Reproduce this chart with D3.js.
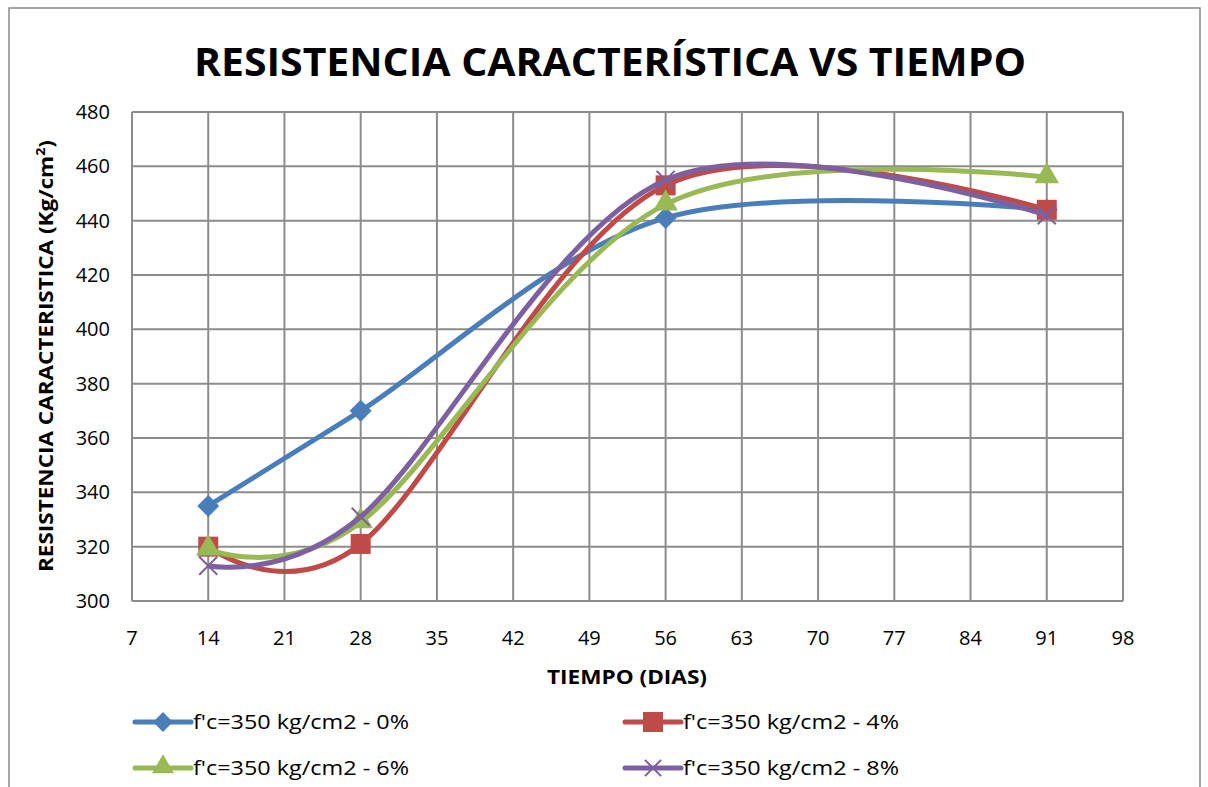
<!DOCTYPE html>
<html><head><meta charset="utf-8">
<script src="https://cdn.jsdelivr.net/npm/d3@7"></script>
<style>body{margin:0;background:#fff}svg{display:block}text{font-family:"Open Sans","Liberation Sans",sans-serif}</style>
</head><body>
<script>
const days = [14, 28, 56, 91];
const s0 = [335, 370, 441, 444];
const s4 = [320, 321, 453, 444];
const s6 = [319, 329, 446, 456];
const s8 = [313, 331, 455, 442];
const seriesNames = ["f'c=350 kg/cm2 - 0%", "f'c=350 kg/cm2 - 4%", "f'c=350 kg/cm2 - 6%", "f'c=350 kg/cm2 - 8%"];
const xTicks = [7,14,21,28,35,42,49,56,63,70,77,84,91,98];
const yTicks = [300,320,340,360,380,400,420,440,460,480];

const W = 1208, H = 787;
const svg = d3.select("body").append("svg").attr("width", W).attr("height", H);
svg.append("rect").attr("x",9).attr("y",8).attr("width",1191).attr("height",800).attr("fill","#fff").attr("stroke","#888").attr("stroke-width",1.5);

const x = d3.scaleLinear().domain([7,98]).range([132,1123]);
const y = d3.scaleLinear().domain([300,480]).range([601,112]);

// grid
svg.append("g").selectAll("line").data(xTicks).join("line")
  .attr("x1",d=>x(d)).attr("x2",d=>x(d)).attr("y1",y(480)).attr("y2",y(300))
  .attr("stroke","#8c8c8c").attr("stroke-width",2);
svg.append("g").selectAll("line").data(yTicks).join("line")
  .attr("x1",x(7)).attr("x2",x(98)).attr("y1",d=>y(d)).attr("y2",d=>y(d))
  .attr("stroke","#8c8c8c").attr("stroke-width",2);

// axes labels
svg.append("g").selectAll("text").data(xTicks).join("text")
  .attr("x",d=>x(d)).attr("y",645).attr("text-anchor","middle").attr("font-size",20).attr("fill","#000").text(d=>d);
svg.append("g").selectAll("text").data(yTicks).join("text")
  .attr("x",110).attr("y",d=>y(d)+7).attr("text-anchor","end").attr("font-size",20).attr("fill","#000").text(d=>d);

// title
svg.append("text").attr("x",610).attr("y",76).attr("text-anchor","middle").attr("font-size",40).attr("font-weight","bold")
  .attr("textLength",832).attr("lengthAdjust","spacingAndGlyphs").text("RESISTENCIA CARACTERÍSTICA VS TIEMPO");
svg.append("text").attr("x",627).attr("y",684).attr("text-anchor","middle").attr("font-size",19).attr("font-weight","bold")
  .attr("textLength",160).attr("lengthAdjust","spacingAndGlyphs").text("TIEMPO (DIAS)");
const yt = svg.append("text").attr("transform","translate(53,356) rotate(-90)").attr("text-anchor","middle").attr("font-size",19).attr("font-weight","bold")
  .attr("textLength",432).attr("lengthAdjust","spacingAndGlyphs");
yt.append("tspan").text("RESISTENCIA CARACTERISTICA (Kg/cm");
yt.append("tspan").attr("font-size",12).attr("dy",-8).text("2");
yt.append("tspan").attr("dy",8).text(")");

const colors = ["#4a7ebb","#be4b48","#98b954","#7d60a0"];
const data = [s0,s4,s6,s8];
const line = d3.line().x(d=>x(d[0])).y(d=>y(d[1])).curve(d3.curveCatmullRom.alpha(0));

function marker(g, i, cx, cy, sc) {
  sc = sc || 1;
  const c = colors[i];
  if (i===0) { const r = 11*sc; g.append("path").attr("d",`M${cx},${cy-r}L${cx+r},${cy}L${cx},${cy+r}L${cx-r},${cy}Z`).attr("fill",c); }
  else if (i===1) g.append("rect").attr("x",cx-10*sc).attr("y",cy-10*sc).attr("width",20*sc).attr("height",20*sc).attr("fill",c);
  else if (i===2) g.append("path").attr("d", d3.symbol(d3.symbolTriangle, 260*sc*sc)()).attr("transform",`translate(${cx},${cy-1})`).attr("fill",c);
  else {
    const r = 9*sc;
    g.append("path").attr("d",`M${cx-r},${cy-r}L${cx+r},${cy+r}M${cx-r},${cy+r}L${cx+r},${cy-r}`).attr("stroke",c).attr("stroke-width",2);
  }
}

data.forEach((vals,i)=>{
  const pts = days.map((d,j)=>[d, vals[j]]);
  const g = svg.append("g");
  g.append("path").attr("d", line(pts)).attr("fill","none").attr("stroke",colors[i]).attr("stroke-width",5).attr("stroke-linejoin","round");
  pts.forEach(p=>marker(g, i, x(p[0]), y(p[1])));
});

// legend
const legPos = [[135,722],[625,722],[135,768],[625,768]];
seriesNames.forEach((n,i)=>{
  const [lx,ly] = legPos[i];
  const g = svg.append("g");
  g.append("line").attr("x1",lx).attr("x2",lx+56).attr("y1",ly).attr("y2",ly).attr("stroke",colors[i]).attr("stroke-width",5).attr("stroke-linecap","round");
  marker(g, i, lx+28, ly, i===1?1:0.9);
  g.append("text").attr("x",lx+58).attr("y",ly+7).attr("font-size",20).attr("textLength",216).attr("lengthAdjust","spacingAndGlyphs").text(n);
});
</script>
</body></html>
